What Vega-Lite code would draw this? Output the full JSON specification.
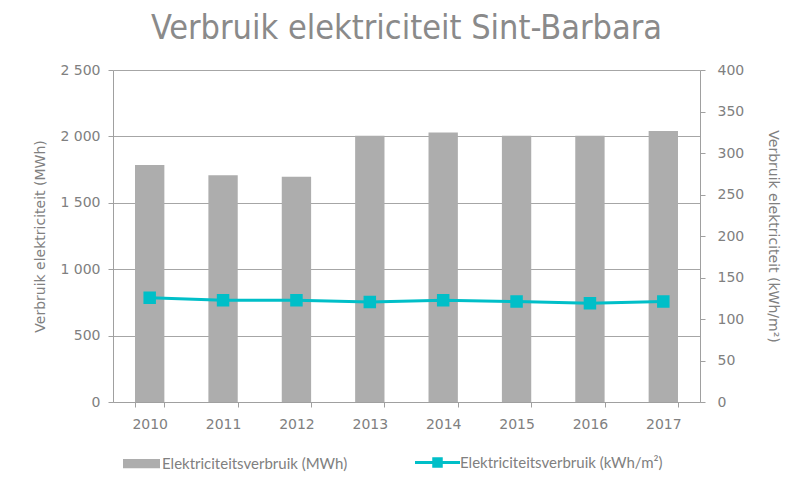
{
  "$schema": "https://vega.github.io/schema/vega-lite/v6.json",
  "width": 587,
  "height": 332,
  "autosize": "none",
  "padding": {"left": 113, "top": 70, "right": 98, "bottom": 84},
  "title": {
    "text": "Verbruik elektriciteit Sint-Barbara",
    "font": "DejaVu Sans Condensed",
    "fontSize": 34,
    "fontWeight": "normal",
    "color": "#8a8a8a",
    "anchor": "middle",
    "offset": 17
  },
  "config": {
    "view": {"stroke": null},
    "axis": {
      "labelColor": "#808080",
      "labelFont": "DejaVu Sans",
      "labelFontSize": 14,
      "titleColor": "#808080",
      "titleFont": "DejaVu Sans",
      "titleFontSize": 14,
      "titleFontWeight": "normal",
      "domainColor": "#a0a0a0",
      "tickColor": "#a0a0a0",
      "gridColor": "#a6a6a6",
      "tickSize": 5
    },
    "legend": {
      "labelColor": "#808080",
      "labelFont": "Lato",
      "labelFontSize": 15,
      "labelLimit": 400
    }
  },
  "data": {
    "values": [
      {"year": "2010", "mwh": 1785, "kwh": 125.5},
      {"year": "2011", "mwh": 1707, "kwh": 122.5},
      {"year": "2012", "mwh": 1697, "kwh": 122.5},
      {"year": "2013", "mwh": 2005, "kwh": 120.5},
      {"year": "2014", "mwh": 2030, "kwh": 122.5},
      {"year": "2015", "mwh": 2005, "kwh": 121},
      {"year": "2016", "mwh": 2005, "kwh": 119},
      {"year": "2017", "mwh": 2040, "kwh": 121}
    ]
  },
  "encoding": {
    "x": {
      "field": "year",
      "type": "ordinal",
      "scale": {"paddingInner": 0.6, "paddingOuter": 0.3},
      "axis": {
        "title": null,
        "labelAngle": 0,
        "labelPadding": 10,
        "tickBand": "extent",
        "grid": false
      }
    }
  },
  "layer": [
    {
      "mark": {"type": "bar", "fill": "#adadad"},
      "encoding": {
        "y": {
          "field": "mwh",
          "type": "quantitative",
          "scale": {"domain": [0, 2500]},
          "axis": {
            "values": [0, 500, 1000, 1500, 2000, 2500],
            "labelExpr": "replace(format(datum.value, ','), ',', ' ')",
            "title": "Verbruik elektriciteit (MWh)",
            "titlePadding": 12,
            "labelPadding": 8,
            "grid": true
          }
        },
        "fill": {
          "datum": "Elektriciteitsverbruik (MWh)",
          "scale": {"range": ["#adadad"]},
          "legend": {
            "title": null,
            "orient": "none",
            "legendX": 10,
            "legendY": 375,
            "symbolType": "M-1,-0.25H1V0.25H-1Z",
            "symbolSize": 1369,
            "symbolStrokeWidth": 0,
            "labelOffset": 2
          }
        }
      }
    },
    {
      "mark": {
        "type": "line",
        "strokeWidth": 3,
        "color": "#00bfc8",
        "point": {"filled": true, "shape": "square", "size": 110, "color": "#00bfc8"}
      },
      "encoding": {
        "y": {
          "field": "kwh",
          "type": "quantitative",
          "scale": {"domain": [0, 400]},
          "axis": {
            "orient": "right",
            "values": [0, 50, 100, 150, 200, 250, 300, 350, 400],
            "title": "Verbruik elektriciteit  (kWh/m²)",
            "titlePadding": 22,
            "labelPadding": 12,
            "grid": false
          }
        },
        "stroke": {
          "datum": "Elektriciteitsverbruik (kWh/m²)",
          "scale": {"range": ["#00bfc8"]},
          "legend": {
            "title": null,
            "orient": "none",
            "legendX": 304,
            "legendY": 372,
            "symbolType": "M-1.2,0H1.2M-0.2,-0.2H0.2V0.2H-0.2Z",
            "symbolSize": 1406,
            "symbolStrokeWidth": 3,
            "symbolFillColor": "#00bfc8",
            "labelOffset": 2
          }
        }
      }
    }
  ],
  "resolve": {"scale": {"y": "independent", "fill": "independent", "stroke": "independent"}}
}
